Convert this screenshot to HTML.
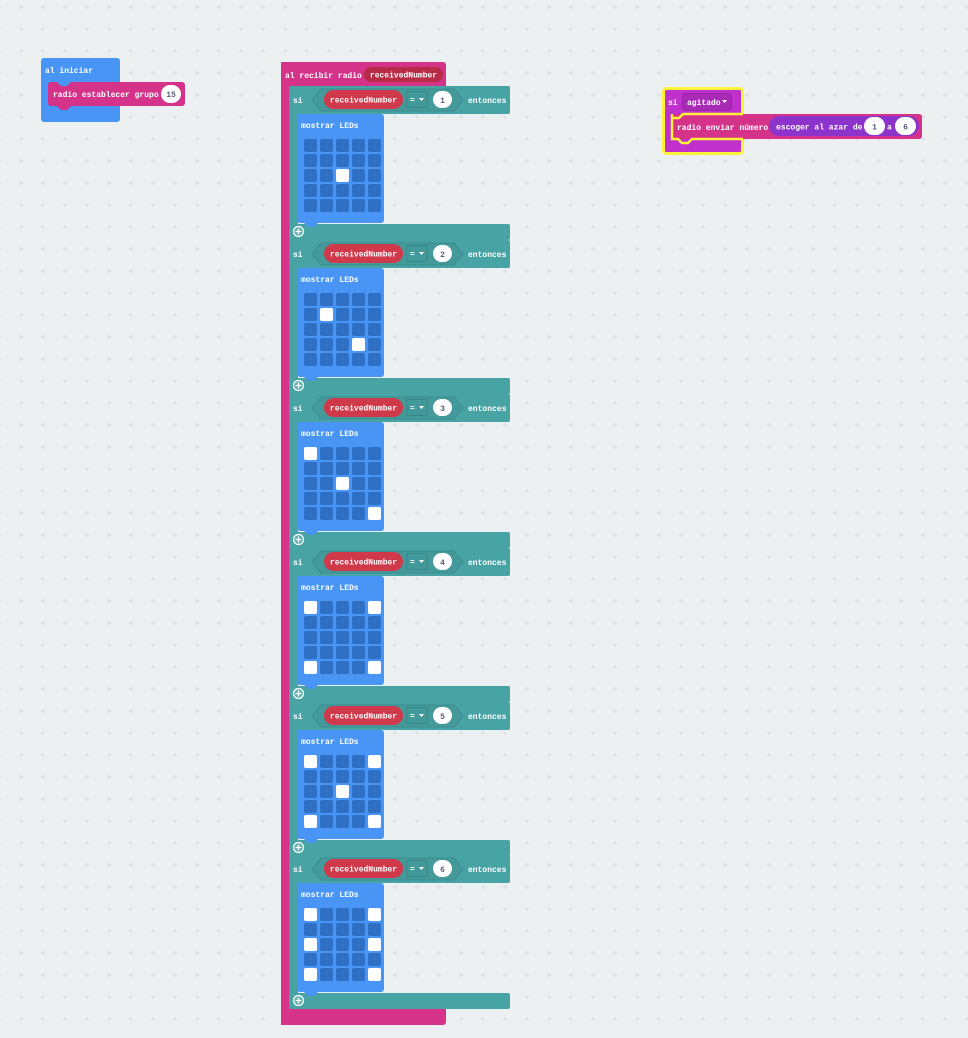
<!DOCTYPE html>
<html><head><meta charset="utf-8"><style>
html,body{margin:0;padding:0;background:#ecf0f1;}
svg{display:block;}
text{font-family:"Liberation Mono","DejaVu Sans Mono",monospace;font-weight:bold;font-size:8px;fill:#fff;}
.d{fill:#575e75;}
</style></head><body>
<svg width="968" height="1038" viewBox="0 0 968 1038" xmlns="http://www.w3.org/2000/svg">
<defs>
<pattern id="grid" x="10" y="-4" width="22" height="22" patternUnits="userSpaceOnUse">
<path d="M9 11H13M11 9V13" stroke="#d9dddf" stroke-width="1"/>
</pattern>
</defs>
<rect width="968" height="1038" fill="#ecf0f1"/>
<rect width="968" height="1038" fill="url(#grid)"/>

<!-- al iniciar -->
<rect x="41" y="58" width="79" height="64" rx="3" fill="#4895f5"/>
<text x="45" y="73">al iniciar</text>
<path d="M48 85 a3 3 0 0 1 3-3 H57 l4 4 h6 l4-4 H182 a3 3 0 0 1 3 3 V103 a3 3 0 0 1-3 3 H71 l-4 4 h-6 l-4-4 H51 a3 3 0 0 1-3-3Z" fill="#d43389"/>
<text x="53" y="97">radio establecer grupo</text>
<rect x="161" y="85" width="20" height="18" rx="9" fill="#fff"/>
<text x="171" y="97" text-anchor="middle" class="d">15</text>

<!-- al recibir radio -->
<rect x="281" y="62" width="165" height="26" rx="3" fill="#d43389"/>
<rect x="281" y="62" width="9" height="963" fill="#d43389"/>
<rect x="281" y="1007" width="165" height="18" rx="3" fill="#d43389"/>
<text x="285" y="78">al recibir radio</text>
<rect x="364" y="67" width="79" height="15" rx="7.5" fill="#b72b45"/>
<text x="403.5" y="77.5" text-anchor="middle">receivedNumber</text>

<!-- si block 1 -->
<g transform="translate(0,86)">
<rect x="289" y="0" width="221" height="28" rx="2" fill="#48a3a4"/>
<rect x="289" y="0" width="9" height="154" fill="#48a3a4"/>
<rect x="289" y="138" width="221" height="16" rx="2" fill="#48a3a4"/>
<text x="293" y="17">si</text>
<polygon points="312,14 321,3 454,3 463,14 454,25 321,25" fill="#44999a" stroke="#3b8d8e" stroke-width="1"/>
<rect x="324" y="4" width="79" height="19" rx="9.5" fill="#cf394a"/>
<text x="363.5" y="16.5" text-anchor="middle">receivedNumber</text>
<rect x="406.5" y="5.5" width="21" height="16" rx="2" fill="#41999a" stroke="#378788" stroke-width="1"/>
<text x="410" y="16.5">=</text><polygon points="419,12 424,12 421.5,15" fill="#fff"/>
<rect x="433" y="5" width="19" height="17" rx="8.5" fill="#fff"/>
<text x="442.5" y="17" text-anchor="middle" class="d">1</text>
<text x="468" y="17">entonces</text>
<path d="M297 28 H381 a3 3 0 0 1 3 3 V134 a3 3 0 0 1-3 3 H318 l-4 4 h-6 l-4-4 H300 a3 3 0 0 1-3-3Z" fill="#4895f5"/>
<text x="301" y="42">mostrar LEDs</text>
<g fill="#3070c4">
<rect x="304" y="53" width="13" height="13" rx="2"/><rect x="320" y="53" width="13" height="13" rx="2"/><rect x="336" y="53" width="13" height="13" rx="2"/><rect x="352" y="53" width="13" height="13" rx="2"/><rect x="368" y="53" width="13" height="13" rx="2"/>
<rect x="304" y="68" width="13" height="13" rx="2"/><rect x="320" y="68" width="13" height="13" rx="2"/><rect x="336" y="68" width="13" height="13" rx="2"/><rect x="352" y="68" width="13" height="13" rx="2"/><rect x="368" y="68" width="13" height="13" rx="2"/>
<rect x="304" y="83" width="13" height="13" rx="2"/><rect x="320" y="83" width="13" height="13" rx="2"/><rect x="336" y="83" width="13" height="13" rx="2" fill="#fff"/><rect x="352" y="83" width="13" height="13" rx="2"/><rect x="368" y="83" width="13" height="13" rx="2"/>
<rect x="304" y="98" width="13" height="13" rx="2"/><rect x="320" y="98" width="13" height="13" rx="2"/><rect x="336" y="98" width="13" height="13" rx="2"/><rect x="352" y="98" width="13" height="13" rx="2"/><rect x="368" y="98" width="13" height="13" rx="2"/>
<rect x="304" y="113" width="13" height="13" rx="2"/><rect x="320" y="113" width="13" height="13" rx="2"/><rect x="336" y="113" width="13" height="13" rx="2"/><rect x="352" y="113" width="13" height="13" rx="2"/><rect x="368" y="113" width="13" height="13" rx="2"/>
</g>
<circle cx="298.5" cy="145.5" r="5" fill="#5fb0b1" stroke="#fff" stroke-width="1.2"/>
<path d="M298.5 142.5V148.5M295.5 145.5H301.5" stroke="#fff" stroke-width="1.3"/>
</g>

<!-- si block 2 -->
<g transform="translate(0,240)">
<rect x="289" y="0" width="221" height="28" rx="2" fill="#48a3a4"/>
<rect x="289" y="0" width="9" height="154" fill="#48a3a4"/>
<rect x="289" y="138" width="221" height="16" rx="2" fill="#48a3a4"/>
<text x="293" y="17">si</text>
<polygon points="312,14 321,3 454,3 463,14 454,25 321,25" fill="#44999a" stroke="#3b8d8e" stroke-width="1"/>
<rect x="324" y="4" width="79" height="19" rx="9.5" fill="#cf394a"/>
<text x="363.5" y="16.5" text-anchor="middle">receivedNumber</text>
<rect x="406.5" y="5.5" width="21" height="16" rx="2" fill="#41999a" stroke="#378788" stroke-width="1"/>
<text x="410" y="16.5">=</text><polygon points="419,12 424,12 421.5,15" fill="#fff"/>
<rect x="433" y="5" width="19" height="17" rx="8.5" fill="#fff"/>
<text x="442.5" y="17" text-anchor="middle" class="d">2</text>
<text x="468" y="17">entonces</text>
<path d="M297 28 H381 a3 3 0 0 1 3 3 V134 a3 3 0 0 1-3 3 H318 l-4 4 h-6 l-4-4 H300 a3 3 0 0 1-3-3Z" fill="#4895f5"/>
<text x="301" y="42">mostrar LEDs</text>
<g fill="#3070c4">
<rect x="304" y="53" width="13" height="13" rx="2"/><rect x="320" y="53" width="13" height="13" rx="2"/><rect x="336" y="53" width="13" height="13" rx="2"/><rect x="352" y="53" width="13" height="13" rx="2"/><rect x="368" y="53" width="13" height="13" rx="2"/>
<rect x="304" y="68" width="13" height="13" rx="2"/><rect x="320" y="68" width="13" height="13" rx="2" fill="#fff"/><rect x="336" y="68" width="13" height="13" rx="2"/><rect x="352" y="68" width="13" height="13" rx="2"/><rect x="368" y="68" width="13" height="13" rx="2"/>
<rect x="304" y="83" width="13" height="13" rx="2"/><rect x="320" y="83" width="13" height="13" rx="2"/><rect x="336" y="83" width="13" height="13" rx="2"/><rect x="352" y="83" width="13" height="13" rx="2"/><rect x="368" y="83" width="13" height="13" rx="2"/>
<rect x="304" y="98" width="13" height="13" rx="2"/><rect x="320" y="98" width="13" height="13" rx="2"/><rect x="336" y="98" width="13" height="13" rx="2"/><rect x="352" y="98" width="13" height="13" rx="2" fill="#fff"/><rect x="368" y="98" width="13" height="13" rx="2"/>
<rect x="304" y="113" width="13" height="13" rx="2"/><rect x="320" y="113" width="13" height="13" rx="2"/><rect x="336" y="113" width="13" height="13" rx="2"/><rect x="352" y="113" width="13" height="13" rx="2"/><rect x="368" y="113" width="13" height="13" rx="2"/>
</g>
<circle cx="298.5" cy="145.5" r="5" fill="#5fb0b1" stroke="#fff" stroke-width="1.2"/>
<path d="M298.5 142.5V148.5M295.5 145.5H301.5" stroke="#fff" stroke-width="1.3"/>
</g>

<!-- si block 3 -->
<g transform="translate(0,394)">
<rect x="289" y="0" width="221" height="28" rx="2" fill="#48a3a4"/>
<rect x="289" y="0" width="9" height="154" fill="#48a3a4"/>
<rect x="289" y="138" width="221" height="16" rx="2" fill="#48a3a4"/>
<text x="293" y="17">si</text>
<polygon points="312,14 321,3 454,3 463,14 454,25 321,25" fill="#44999a" stroke="#3b8d8e" stroke-width="1"/>
<rect x="324" y="4" width="79" height="19" rx="9.5" fill="#cf394a"/>
<text x="363.5" y="16.5" text-anchor="middle">receivedNumber</text>
<rect x="406.5" y="5.5" width="21" height="16" rx="2" fill="#41999a" stroke="#378788" stroke-width="1"/>
<text x="410" y="16.5">=</text><polygon points="419,12 424,12 421.5,15" fill="#fff"/>
<rect x="433" y="5" width="19" height="17" rx="8.5" fill="#fff"/>
<text x="442.5" y="17" text-anchor="middle" class="d">3</text>
<text x="468" y="17">entonces</text>
<path d="M297 28 H381 a3 3 0 0 1 3 3 V134 a3 3 0 0 1-3 3 H318 l-4 4 h-6 l-4-4 H300 a3 3 0 0 1-3-3Z" fill="#4895f5"/>
<text x="301" y="42">mostrar LEDs</text>
<g fill="#3070c4">
<rect x="304" y="53" width="13" height="13" rx="2" fill="#fff"/><rect x="320" y="53" width="13" height="13" rx="2"/><rect x="336" y="53" width="13" height="13" rx="2"/><rect x="352" y="53" width="13" height="13" rx="2"/><rect x="368" y="53" width="13" height="13" rx="2"/>
<rect x="304" y="68" width="13" height="13" rx="2"/><rect x="320" y="68" width="13" height="13" rx="2"/><rect x="336" y="68" width="13" height="13" rx="2"/><rect x="352" y="68" width="13" height="13" rx="2"/><rect x="368" y="68" width="13" height="13" rx="2"/>
<rect x="304" y="83" width="13" height="13" rx="2"/><rect x="320" y="83" width="13" height="13" rx="2"/><rect x="336" y="83" width="13" height="13" rx="2" fill="#fff"/><rect x="352" y="83" width="13" height="13" rx="2"/><rect x="368" y="83" width="13" height="13" rx="2"/>
<rect x="304" y="98" width="13" height="13" rx="2"/><rect x="320" y="98" width="13" height="13" rx="2"/><rect x="336" y="98" width="13" height="13" rx="2"/><rect x="352" y="98" width="13" height="13" rx="2"/><rect x="368" y="98" width="13" height="13" rx="2"/>
<rect x="304" y="113" width="13" height="13" rx="2"/><rect x="320" y="113" width="13" height="13" rx="2"/><rect x="336" y="113" width="13" height="13" rx="2"/><rect x="352" y="113" width="13" height="13" rx="2"/><rect x="368" y="113" width="13" height="13" rx="2" fill="#fff"/>
</g>
<circle cx="298.5" cy="145.5" r="5" fill="#5fb0b1" stroke="#fff" stroke-width="1.2"/>
<path d="M298.5 142.5V148.5M295.5 145.5H301.5" stroke="#fff" stroke-width="1.3"/>
</g>

<!-- si block 4 -->
<g transform="translate(0,548)">
<rect x="289" y="0" width="221" height="28" rx="2" fill="#48a3a4"/>
<rect x="289" y="0" width="9" height="154" fill="#48a3a4"/>
<rect x="289" y="138" width="221" height="16" rx="2" fill="#48a3a4"/>
<text x="293" y="17">si</text>
<polygon points="312,14 321,3 454,3 463,14 454,25 321,25" fill="#44999a" stroke="#3b8d8e" stroke-width="1"/>
<rect x="324" y="4" width="79" height="19" rx="9.5" fill="#cf394a"/>
<text x="363.5" y="16.5" text-anchor="middle">receivedNumber</text>
<rect x="406.5" y="5.5" width="21" height="16" rx="2" fill="#41999a" stroke="#378788" stroke-width="1"/>
<text x="410" y="16.5">=</text><polygon points="419,12 424,12 421.5,15" fill="#fff"/>
<rect x="433" y="5" width="19" height="17" rx="8.5" fill="#fff"/>
<text x="442.5" y="17" text-anchor="middle" class="d">4</text>
<text x="468" y="17">entonces</text>
<path d="M297 28 H381 a3 3 0 0 1 3 3 V134 a3 3 0 0 1-3 3 H318 l-4 4 h-6 l-4-4 H300 a3 3 0 0 1-3-3Z" fill="#4895f5"/>
<text x="301" y="42">mostrar LEDs</text>
<g fill="#3070c4">
<rect x="304" y="53" width="13" height="13" rx="2" fill="#fff"/><rect x="320" y="53" width="13" height="13" rx="2"/><rect x="336" y="53" width="13" height="13" rx="2"/><rect x="352" y="53" width="13" height="13" rx="2"/><rect x="368" y="53" width="13" height="13" rx="2" fill="#fff"/>
<rect x="304" y="68" width="13" height="13" rx="2"/><rect x="320" y="68" width="13" height="13" rx="2"/><rect x="336" y="68" width="13" height="13" rx="2"/><rect x="352" y="68" width="13" height="13" rx="2"/><rect x="368" y="68" width="13" height="13" rx="2"/>
<rect x="304" y="83" width="13" height="13" rx="2"/><rect x="320" y="83" width="13" height="13" rx="2"/><rect x="336" y="83" width="13" height="13" rx="2"/><rect x="352" y="83" width="13" height="13" rx="2"/><rect x="368" y="83" width="13" height="13" rx="2"/>
<rect x="304" y="98" width="13" height="13" rx="2"/><rect x="320" y="98" width="13" height="13" rx="2"/><rect x="336" y="98" width="13" height="13" rx="2"/><rect x="352" y="98" width="13" height="13" rx="2"/><rect x="368" y="98" width="13" height="13" rx="2"/>
<rect x="304" y="113" width="13" height="13" rx="2" fill="#fff"/><rect x="320" y="113" width="13" height="13" rx="2"/><rect x="336" y="113" width="13" height="13" rx="2"/><rect x="352" y="113" width="13" height="13" rx="2"/><rect x="368" y="113" width="13" height="13" rx="2" fill="#fff"/>
</g>
<circle cx="298.5" cy="145.5" r="5" fill="#5fb0b1" stroke="#fff" stroke-width="1.2"/>
<path d="M298.5 142.5V148.5M295.5 145.5H301.5" stroke="#fff" stroke-width="1.3"/>
</g>

<!-- si block 5 -->
<g transform="translate(0,702)">
<rect x="289" y="0" width="221" height="28" rx="2" fill="#48a3a4"/>
<rect x="289" y="0" width="9" height="154" fill="#48a3a4"/>
<rect x="289" y="138" width="221" height="16" rx="2" fill="#48a3a4"/>
<text x="293" y="17">si</text>
<polygon points="312,14 321,3 454,3 463,14 454,25 321,25" fill="#44999a" stroke="#3b8d8e" stroke-width="1"/>
<rect x="324" y="4" width="79" height="19" rx="9.5" fill="#cf394a"/>
<text x="363.5" y="16.5" text-anchor="middle">receivedNumber</text>
<rect x="406.5" y="5.5" width="21" height="16" rx="2" fill="#41999a" stroke="#378788" stroke-width="1"/>
<text x="410" y="16.5">=</text><polygon points="419,12 424,12 421.5,15" fill="#fff"/>
<rect x="433" y="5" width="19" height="17" rx="8.5" fill="#fff"/>
<text x="442.5" y="17" text-anchor="middle" class="d">5</text>
<text x="468" y="17">entonces</text>
<path d="M297 28 H381 a3 3 0 0 1 3 3 V134 a3 3 0 0 1-3 3 H318 l-4 4 h-6 l-4-4 H300 a3 3 0 0 1-3-3Z" fill="#4895f5"/>
<text x="301" y="42">mostrar LEDs</text>
<g fill="#3070c4">
<rect x="304" y="53" width="13" height="13" rx="2" fill="#fff"/><rect x="320" y="53" width="13" height="13" rx="2"/><rect x="336" y="53" width="13" height="13" rx="2"/><rect x="352" y="53" width="13" height="13" rx="2"/><rect x="368" y="53" width="13" height="13" rx="2" fill="#fff"/>
<rect x="304" y="68" width="13" height="13" rx="2"/><rect x="320" y="68" width="13" height="13" rx="2"/><rect x="336" y="68" width="13" height="13" rx="2"/><rect x="352" y="68" width="13" height="13" rx="2"/><rect x="368" y="68" width="13" height="13" rx="2"/>
<rect x="304" y="83" width="13" height="13" rx="2"/><rect x="320" y="83" width="13" height="13" rx="2"/><rect x="336" y="83" width="13" height="13" rx="2" fill="#fff"/><rect x="352" y="83" width="13" height="13" rx="2"/><rect x="368" y="83" width="13" height="13" rx="2"/>
<rect x="304" y="98" width="13" height="13" rx="2"/><rect x="320" y="98" width="13" height="13" rx="2"/><rect x="336" y="98" width="13" height="13" rx="2"/><rect x="352" y="98" width="13" height="13" rx="2"/><rect x="368" y="98" width="13" height="13" rx="2"/>
<rect x="304" y="113" width="13" height="13" rx="2" fill="#fff"/><rect x="320" y="113" width="13" height="13" rx="2"/><rect x="336" y="113" width="13" height="13" rx="2"/><rect x="352" y="113" width="13" height="13" rx="2"/><rect x="368" y="113" width="13" height="13" rx="2" fill="#fff"/>
</g>
<circle cx="298.5" cy="145.5" r="5" fill="#5fb0b1" stroke="#fff" stroke-width="1.2"/>
<path d="M298.5 142.5V148.5M295.5 145.5H301.5" stroke="#fff" stroke-width="1.3"/>
</g>

<!-- si block 6 -->
<g transform="translate(0,855)">
<rect x="289" y="0" width="221" height="28" rx="2" fill="#48a3a4"/>
<rect x="289" y="0" width="9" height="154" fill="#48a3a4"/>
<rect x="289" y="138" width="221" height="16" rx="2" fill="#48a3a4"/>
<text x="293" y="17">si</text>
<polygon points="312,14 321,3 454,3 463,14 454,25 321,25" fill="#44999a" stroke="#3b8d8e" stroke-width="1"/>
<rect x="324" y="4" width="79" height="19" rx="9.5" fill="#cf394a"/>
<text x="363.5" y="16.5" text-anchor="middle">receivedNumber</text>
<rect x="406.5" y="5.5" width="21" height="16" rx="2" fill="#41999a" stroke="#378788" stroke-width="1"/>
<text x="410" y="16.5">=</text><polygon points="419,12 424,12 421.5,15" fill="#fff"/>
<rect x="433" y="5" width="19" height="17" rx="8.5" fill="#fff"/>
<text x="442.5" y="17" text-anchor="middle" class="d">6</text>
<text x="468" y="17">entonces</text>
<path d="M297 28 H381 a3 3 0 0 1 3 3 V134 a3 3 0 0 1-3 3 H318 l-4 4 h-6 l-4-4 H300 a3 3 0 0 1-3-3Z" fill="#4895f5"/>
<text x="301" y="42">mostrar LEDs</text>
<g fill="#3070c4">
<rect x="304" y="53" width="13" height="13" rx="2" fill="#fff"/><rect x="320" y="53" width="13" height="13" rx="2"/><rect x="336" y="53" width="13" height="13" rx="2"/><rect x="352" y="53" width="13" height="13" rx="2"/><rect x="368" y="53" width="13" height="13" rx="2" fill="#fff"/>
<rect x="304" y="68" width="13" height="13" rx="2"/><rect x="320" y="68" width="13" height="13" rx="2"/><rect x="336" y="68" width="13" height="13" rx="2"/><rect x="352" y="68" width="13" height="13" rx="2"/><rect x="368" y="68" width="13" height="13" rx="2"/>
<rect x="304" y="83" width="13" height="13" rx="2" fill="#fff"/><rect x="320" y="83" width="13" height="13" rx="2"/><rect x="336" y="83" width="13" height="13" rx="2"/><rect x="352" y="83" width="13" height="13" rx="2"/><rect x="368" y="83" width="13" height="13" rx="2" fill="#fff"/>
<rect x="304" y="98" width="13" height="13" rx="2"/><rect x="320" y="98" width="13" height="13" rx="2"/><rect x="336" y="98" width="13" height="13" rx="2"/><rect x="352" y="98" width="13" height="13" rx="2"/><rect x="368" y="98" width="13" height="13" rx="2"/>
<rect x="304" y="113" width="13" height="13" rx="2" fill="#fff"/><rect x="320" y="113" width="13" height="13" rx="2"/><rect x="336" y="113" width="13" height="13" rx="2"/><rect x="352" y="113" width="13" height="13" rx="2"/><rect x="368" y="113" width="13" height="13" rx="2" fill="#fff"/>
</g>
<circle cx="298.5" cy="145.5" r="5" fill="#5fb0b1" stroke="#fff" stroke-width="1.2"/>
<path d="M298.5 142.5V148.5M295.5 145.5H301.5" stroke="#fff" stroke-width="1.3"/>
</g>

<!-- si agitado -->
<rect x="663.5" y="88.5" width="79" height="65" rx="3" fill="#c030cc" stroke="#fff23a" stroke-width="3"/>
<text x="668" y="105">si</text>
<rect x="682.5" y="93.5" width="49" height="17" rx="3" fill="#a92ab5" stroke="#9b25a8" stroke-width="1"/>
<text x="687" y="105">agitado</text>
<polygon points="722,100 727,100 724.5,103" fill="#fff"/>
<rect x="672" y="114" width="250" height="25" rx="3" fill="#d43389"/>
<path d="M743 114 H683 l-4 4 h-6 l0 0 M672 114 V139 H678 l4 4 h6 l4-4 H743" stroke="#fff23a" stroke-width="2.5" fill="none"/>
<text x="677" y="130">radio enviar número</text>
<rect x="769" y="116" width="150" height="20" rx="10" fill="#8c33cc"/>
<text x="776" y="129.5">escoger al azar de</text>
<rect x="864" y="117" width="21" height="18" rx="9" fill="#fff"/>
<text x="874.5" y="129.5" text-anchor="middle" class="d">1</text>
<text x="887" y="129.5">a</text>
<rect x="895" y="117" width="21" height="18" rx="9" fill="#fff"/>
<text x="905.5" y="129.5" text-anchor="middle" class="d">6</text>
</svg>
</body></html>
